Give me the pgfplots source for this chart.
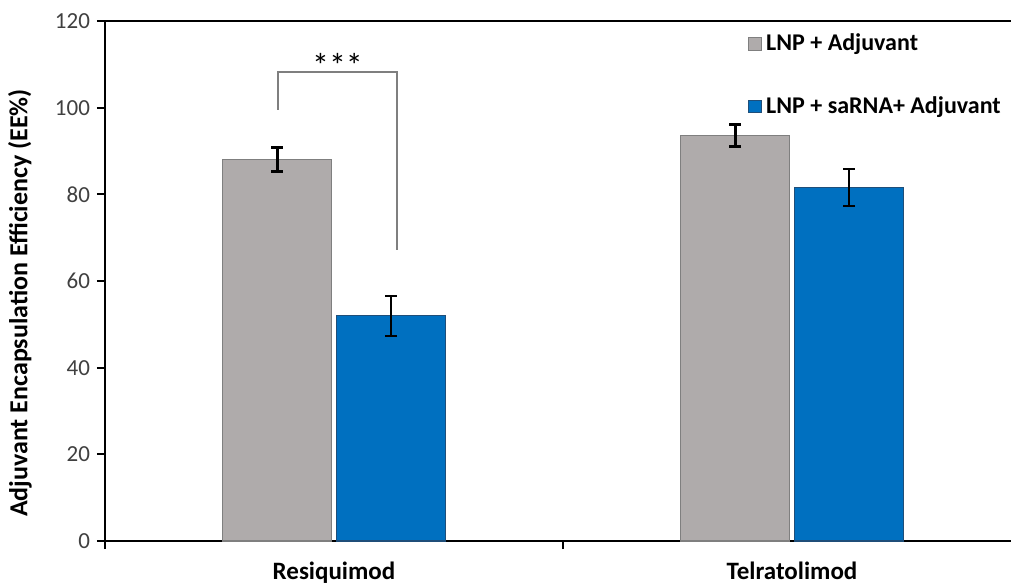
\documentclass[border=0pt]{standalone}
\usepackage{pgfplots}
\pgfplotsset{compat=1.18}
\usepackage{fontspec}
\setmainfont{Carlito}
\definecolor{gbar}{RGB}{175,171,171}
\definecolor{gedge}{RGB}{127,127,127}
\definecolor{bbar}{RGB}{0,112,192}
\definecolor{bedge}{RGB}{31,78,121}
\begin{document}
\begin{tikzpicture}
\begin{axis}[
  at={(0,0)}, anchor=south west,
  scale only axis, width=458pt, height=260pt,
  xmin=-0.5, xmax=1.5, ymin=0, ymax=120,
  ybar=2.5pt, bar width=54.5pt,
  axis line style={line width=1pt, black},
  tick align=outside, major tick length=4pt,
  tick pos=left,
  tick style={black, line width=1pt},
  xtick={-0.5,0.5,1.5}, xticklabels={},
  ytick={0,20,...,120},
  yticklabel style={font=\fontsize{11.5}{13}\selectfont, text=black!75},
  /pgf/number format/assume math mode=true,
  extra x ticks={0,1}, extra x tick labels={Resiquimod,Telratolimod},
  extra x tick style={major tick length=0pt, tick label style={font=\bfseries\fontsize{12.5}{14}\selectfont, yshift=-7pt}},
  ylabel={Adjuvant Encapsulation Efficiency (EE\%)},
  ylabel style={font=\bfseries\fontsize{13}{15}\selectfont, at={(axis description cs:-0.0928,0.4577)}, anchor=center},
  legend image code/.code={\draw[#1, line width=0.5pt] (0pt,-3.2pt) rectangle (6.4pt,3.2pt);},
  legend cell align=left,
  legend style={at={(axis description cs:0.702,0.984)}, anchor=north west, draw=none, fill=none,
    font=\bfseries\fontsize{12}{14}\selectfont, row sep=17.5pt, inner sep=0pt,
    /tikz/every even column/.append style={column sep=3pt}},
]
\addplot[fill=gbar, draw=gedge, line width=0.6pt,
  error bars/.cd, y dir=both, y explicit,
  error bar style={line width=1.5pt, black},
  error mark options={rotate=90, mark size=3pt, line width=1.5pt, black}]
  coordinates {(0,88) +- (0,2.7) (1,93.6) +- (0,2.5)};
\addplot[fill=bbar, draw=bedge, line width=0.6pt,
  error bars/.cd, y dir=both, y explicit,
  error bar style={line width=1pt, black},
  error mark options={rotate=90, mark size=3pt, line width=1pt, black}]
  coordinates {(0,52) +- (0,4.6) (1,81.6) +- (0,4.2)};
\legend{LNP + Adjuvant, LNP + saRNA+ Adjuvant}
\draw[gedge, line width=1pt] (axis cs:-0.122,99.5) |- (axis cs:0.1376,108.2) -- (axis cs:0.1376,67.2);
\node[anchor=south, font=\fontsize{17}{19}\selectfont, inner sep=0pt, yshift=-3pt] at (axis cs:0.0076,108.2) {***};
\end{axis}
\pgfresetboundingbox
\useasboundingbox (-52.5pt,-22.5pt) rectangle (453pt,270.5pt);
\end{tikzpicture}
\end{document}
